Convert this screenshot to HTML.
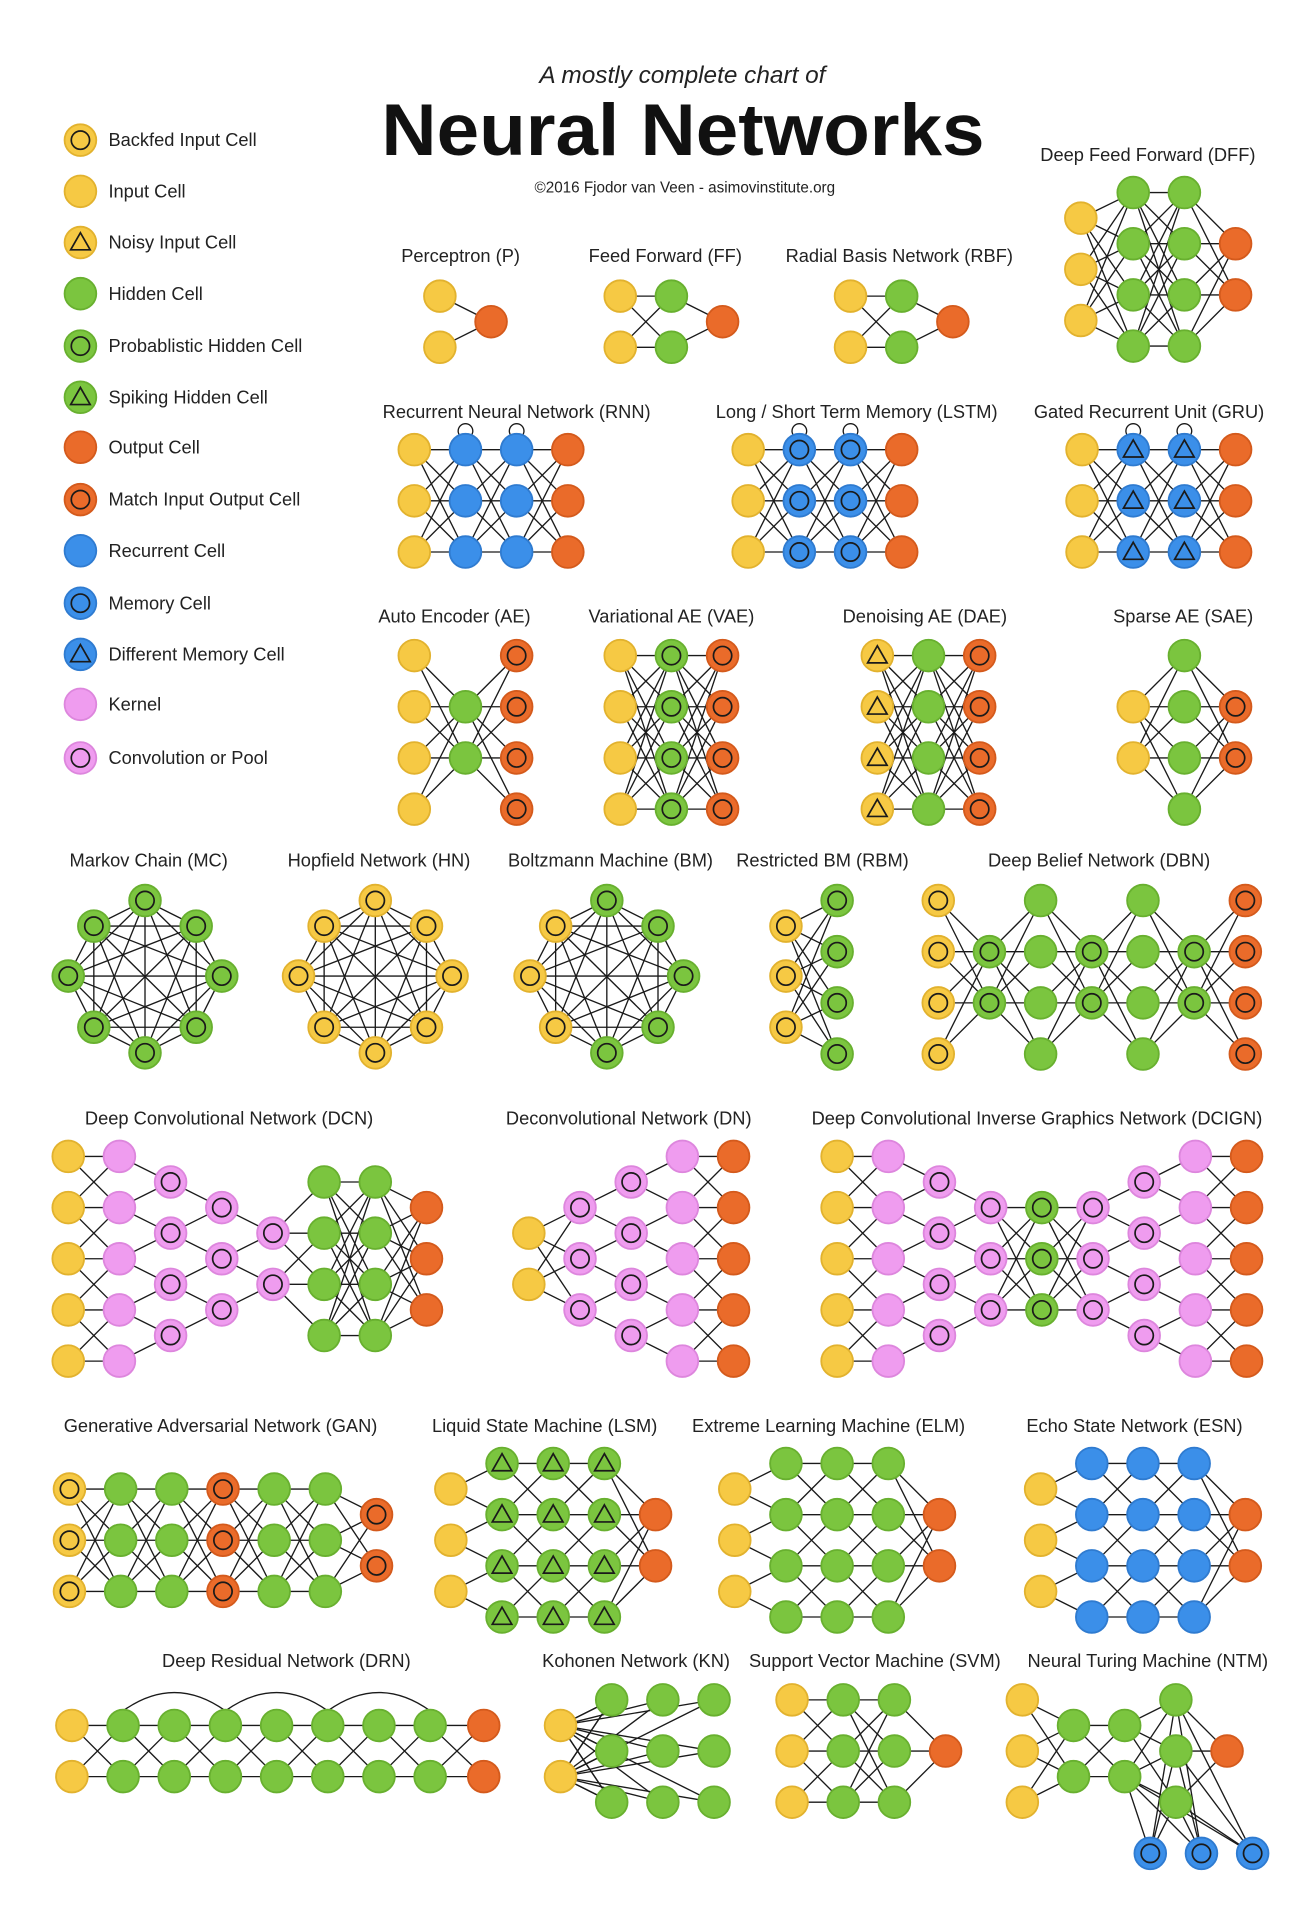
<!DOCTYPE html>
<html><head><meta charset="utf-8"><style>
html,body{margin:0;padding:0;background:#fff}
svg{display:block}
text{font-family:"Liberation Sans","DejaVu Sans",sans-serif;fill:#222}
</style></head><body>
<svg id="chart" xmlns="http://www.w3.org/2000/svg" width="1316" height="1918" viewBox="0 0 1080 1574">
<rect width="1080" height="1574" fill="#fff"/>
<text x="560" y="68" text-anchor="middle" font-size="20" font-style="italic">A mostly complete chart of</text>
<text x="313" y="127" font-size="60" font-weight="bold" textLength="495" lengthAdjust="spacingAndGlyphs" style="fill:#111">Neural Networks</text>
<text x="562" y="158" text-anchor="middle" font-size="12.5">©2016 Fjodor van Veen - asimovinstitute.org</text>
<g id="edges"></g><g id="nodes"></g><g id="labels"></g>
</svg>
<script>
const legendTypes=['bi','i','ni','h','ph','sh','o','mo','r','m','dm','k','c'];
const legendNames=['Backfed Input Cell','Input Cell','Noisy Input Cell','Hidden Cell','Probablistic Hidden Cell','Spiking Hidden Cell','Output Cell','Match Input Output Cell','Recurrent Cell','Memory Cell','Different Memory Cell','Kernel','Convolution or Pool'];
const legendYs=[115,157,199,241,284,326,367,410,452,495,537,578,622];
const Y4=[538,580,622,664], Y3a=[369,411,453];
const D5=[949,991,1033,1075,1117],D4=[970,1012,1054,1096],D3=[991,1033,1075],D2=[1012,1054];
const nets=[
{n:'Perceptron (P)',lx:378,ly:215,L:[[361,[243,285],'i'],[403,[264],'o']],m:'f'},
{n:'Feed Forward (FF)',lx:546,ly:215,L:[[509,[243,285],'i'],[551,[243,285],'h'],[593,[264],'o']],m:'f'},
{n:'Radial Basis Network (RBF)',lx:738,ly:215,L:[[698,[243,285],'i'],[740,[243,285],'h'],[782,[264],'o']],m:'f'},
{n:'Deep Feed Forward (DFF)',lx:942,ly:132,L:[[887,[179,221,263],'i'],[930,[158,200,242,284],'h'],[972,[158,200,242,284],'h'],[1014,[200,242],'o']],m:'f'},
{n:'Recurrent Neural Network (RNN)',lx:424,ly:343,L:[[340,Y3a,'i'],[382,Y3a,'r'],[424,Y3a,'r'],[466,Y3a,'o']],m:'f',loop:true},
{n:'Long / Short Term Memory (LSTM)',lx:703,ly:343,L:[[614,Y3a,'i'],[656,Y3a,'m'],[698,Y3a,'m'],[740,Y3a,'o']],m:'f',loop:true},
{n:'Gated Recurrent Unit (GRU)',lx:943,ly:343,L:[[888,Y3a,'i'],[930,Y3a,'dm'],[972,Y3a,'dm'],[1014,Y3a,'o']],m:'f',loop:true},
{n:'Auto Encoder (AE)',lx:373,ly:511,L:[[340,Y4,'i'],[382,[580,622],'h'],[424,Y4,'mo']],m:'f'},
{n:'Variational AE (VAE)',lx:551,ly:511,L:[[509,Y4,'i'],[551,Y4,'ph'],[593,Y4,'mo']],m:'f'},
{n:'Denoising AE (DAE)',lx:759,ly:511,L:[[720,Y4,'ni'],[762,Y4,'h'],[804,Y4,'mo']],m:'f'},
{n:'Sparse AE (SAE)',lx:971,ly:511,L:[[930,[580,622],'i'],[972,Y4,'h'],[1014,[580,622],'mo']],m:'f'},
{n:'Restricted BM (RBM)',lx:675,ly:711,L:[[645,[760,801,843],'bi'],[687,[739,781,823,865],'ph']],m:'f'},
{n:'Deep Belief Network (DBN)',lx:902,ly:711,L:[[770,[739,781,823,865],'bi'],[812,[781,823],'ph'],[854,[739,781,823,865],'h'],[896,[781,823],'ph'],[938,[739,781,823,865],'h'],[980,[781,823],'ph'],[1022,[739,781,823,865],'mo']],m:'f'},
{n:'Deep Convolutional Network (DCN)',lx:188,ly:923,L:[[56,D5,'i'],[98,D5,'k'],[140,D4,'c'],[182,D3,'c'],[224,D2,'c'],[266,D4,'h'],[308,D4,'h'],[350,D3,'o']],m:'lllllff'},
{n:'Deconvolutional Network (DN)',lx:516,ly:923,L:[[434,D2,'i'],[476,D3,'c'],[518,D4,'c'],[560,D5,'k'],[602,D5,'o']],m:'fllll'},
{n:'Deep Convolutional Inverse Graphics Network (DCIGN)',lx:851,ly:923,L:[[687,D5,'i'],[729,D5,'k'],[771,D4,'c'],[813,D3,'c'],[855,D3,'ph'],[897,D3,'c'],[939,D4,'c'],[981,D5,'k'],[1023,D5,'o']],m:'lllfflll'},
{n:'Generative Adversarial Network (GAN)',lx:181,ly:1175,L:[[57,[1222,1264,1306],'bi'],[99,[1222,1264,1306],'h'],[141,[1222,1264,1306],'h'],[183,[1222,1264,1306],'mo'],[225,[1222,1264,1306],'h'],[267,[1222,1264,1306],'h'],[309,[1243,1285],'mo']],m:'f'},
{n:'Liquid State Machine (LSM)',lx:447,ly:1175,L:[[370,[1222,1264,1306],'i'],[412,[1201,1243,1285,1327],'sh'],[454,[1201,1243,1285,1327],'sh'],[496,[1201,1243,1285,1327],'sh'],[538,[1243,1285],'o']],m:'lllf'},
{n:'Extreme Learning Machine (ELM)',lx:680,ly:1175,L:[[603,[1222,1264,1306],'i'],[645,[1201,1243,1285,1327],'h'],[687,[1201,1243,1285,1327],'h'],[729,[1201,1243,1285,1327],'h'],[771,[1243,1285],'o']],m:'lllf'},
{n:'Echo State Network (ESN)',lx:931,ly:1175,L:[[854,[1222,1264,1306],'i'],[896,[1201,1243,1285,1327],'r'],[938,[1201,1243,1285,1327],'r'],[980,[1201,1243,1285,1327],'r'],[1022,[1243,1285],'o']],m:'lllf'},
{n:'Deep Residual Network (DRN)',lx:235,ly:1368,L:[[59,[1416,1458],'i'],[101,[1416,1458],'h'],[143,[1416,1458],'h'],[185,[1416,1458],'h'],[227,[1416,1458],'h'],[269,[1416,1458],'h'],[311,[1416,1458],'h'],[353,[1416,1458],'h'],[397,[1416,1458],'o']],m:'f',skip:true},
{n:'Kohonen Network (KN)',lx:522,ly:1368,L:[[460,[1416,1458],'i'],[502,[1395,1437,1479],'h'],[544,[1395,1437,1479],'h'],[586,[1395,1437,1479],'h']],m:'fnn',kn:true},
{n:'Support Vector Machine (SVM)',lx:718,ly:1368,L:[[650,[1395,1437,1479],'i'],[692,[1395,1437,1479],'h'],[734,[1395,1437,1479],'h'],[776,[1437],'o']],m:'lff'},
{n:'Neural Turing Machine (NTM)',lx:942,ly:1368,L:[[839,[1395,1437,1479],'i'],[881,[1416,1458],'h'],[923,[1416,1458],'h'],[965,[1395,1437,1479],'h'],[1007,[1437],'o']],m:'f',ntm:true}
];
const rings=[
{n:'Markov Chain (MC)',cx:119,t:['ph','ph','ph','ph','ph','ph','ph','ph']},
{n:'Hopfield Network (HN)',cx:308,t:['bi','bi','bi','bi','bi','bi','bi','bi']},
{n:'Boltzmann Machine (BM)',cx:498,t:['ph','bi','ph','bi','ph','bi','ph','ph']}
];
const RDX=[0,-42,42,-63,63,-42,42,0], RDY=[-62,-41,-41,0,0,42,42,63];
const FILL={y:'#f6c944',g:'#7bc53f',o:'#ea6b2a',b:'#3b8fe9',p:'#ef9cef'};
const STROKE={y:'#e2b22e',g:'#68b02f',o:'#d45a1c',b:'#2f7bd0',p:'#dd86dd'};
const TMAP={bi:['y','c'],i:['y',''],ni:['y','t'],h:['g',''],ph:['g','c'],sh:['g','t'],o:['o',''],mo:['o','c'],r:['b',''],m:['b','c'],dm:['b','t'],k:['p',''],c:['p','c']};
const NS='http://www.w3.org/2000/svg';
const E=document.getElementById('edges'),N=document.getElementById('nodes'),LB=document.getElementById('labels');
function mk(tag,at,par){const e=document.createElementNS(NS,tag);for(const k in at)e.setAttribute(k,at[k]);par.appendChild(e);return e;}
function line(x1,y1,x2,y2){const l=mk('line',{x1,y1,x2,y2,stroke:'#1a1a1a','stroke-width':1.1},E);

}
function node(x,y,t,nm){const [c,s]=TMAP[t];const g=mk('g',{},N);


mk('circle',{cx:x,cy:y,r:13,fill:FILL[c],stroke:STROKE[c],'stroke-width':1.5},g);
if(s==='c')mk('circle',{cx:x,cy:y,r:7.5,fill:'none',stroke:'#1a1a1a','stroke-width':1.4},g);
if(s==='t')mk('polygon',{points:`${x},${y-8} ${x+8},${y+6} ${x-8},${y+6}`,fill:'none',stroke:'#1a1a1a','stroke-width':1.4},g);}
function label(x,y,s,a){const t=mk('text',{x,y,'text-anchor':a||'middle','font-size':15},LB);t.textContent=s;

return t;}
legendTypes.forEach((t,i)=>{node(66,legendYs[i],t,'legend-swatch');const tx=label(89,legendYs[i]+5,legendNames[i],'start');
});
nets.forEach(net=>{label(net.lx,net.ly,net.n);const L=net.L;
for(let i=0;i<L.length-1;i++){const md=net.m.length>1?net.m[i]:net.m;if(md==='n')continue;
const a=L[i],b=L[i+1];a[1].forEach(ya=>b[1].forEach(yb=>{if(md==='l'&&Math.abs(ya-yb)>45)return;line(a[0],ya,b[0],yb);}));}
if(net.kn){const a=L[0];for(let j=1;j<L.length;j++)a[1].forEach(ya=>L[j][1].forEach(yb=>line(a[0],ya,L[j][0],yb)));}
if(net.loop){L.slice(1,-1).forEach(l=>{const x=l[0],y=l[1][0];const p=mk('path',{d:`M${x-5},${y-12} A6,6 0 1 1 ${x+5},${y-12}`,fill:'none',stroke:'#1a1a1a','stroke-width':1.1},E);

});}
if(net.skip){for(let i=1;i+2<L.length-1;i+=2){const x1=L[i][0],x2=L[i+2][0],y=L[i][1][0];const p=mk('path',{d:`M${x1},${y-12} Q${(x1+x2)/2},${y-42} ${x2},${y-12}`,fill:'none',stroke:'#1a1a1a','stroke-width':1.1},E);

}}
if(net.ntm){const mx=[944,986,1028];const h=L[3];mx.forEach(x=>{h[1].forEach(y=>line(h[0],y,x,1521));line(L[2][0],1458,x,1521);});mx.forEach(x=>node(x,1521,'m','memory-cell'));}
L.forEach(l=>l[1].forEach(y=>node(l[0],y,l[2])));});
rings.forEach(rg=>{label(rg.cx+3,711,rg.n);const cy=801;
const P=RDX.map((dx,i)=>[rg.cx+dx,cy+RDY[i]]);
for(let i=0;i<8;i++)for(let j=i+1;j<8;j++)line(P[i][0],P[i][1],P[j][0],P[j][1]);
P.forEach((p,i)=>node(p[0],p[1],rg.t[i]));});
</script>
</body></html>
